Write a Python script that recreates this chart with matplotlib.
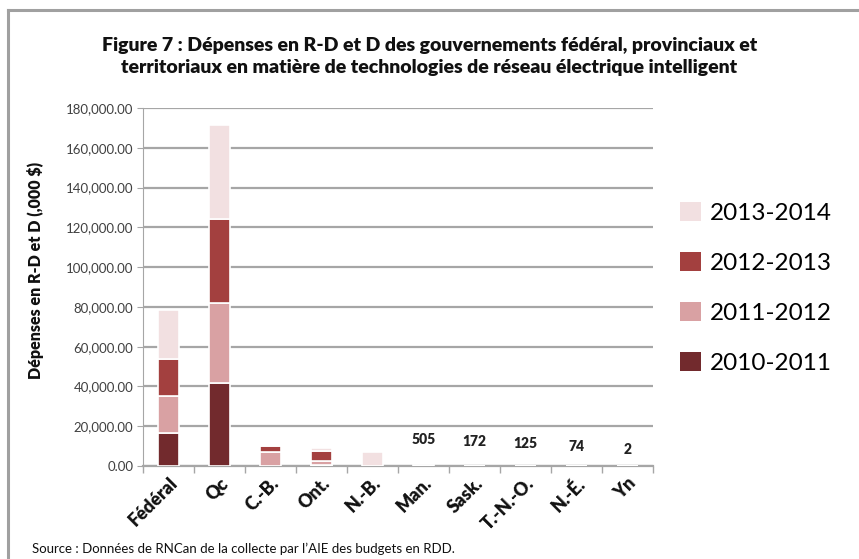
import matplotlib
matplotlib.use("Agg")
import matplotlib.pyplot as plt
from matplotlib.patches import Patch
from matplotlib.lines import Line2D
import numpy as np

categories = ["Fédéral", "Qc", "C.-B.", "Ont.", "N.-B.", "Man.", "Sask.", "T.-N.-O.", "N.-É.", "Yn"]
series_names = ["2010-2011", "2011-2012", "2012-2013", "2013-2014"]
v2010 = [16700, 41600, 0, 500, 0, 0, 0, 0, 0, 0]
v2011 = [18600, 40500, 7200, 2000, 0, 0, 0, 0, 0, 0]
v2012 = [18600, 42100, 2900, 5200, 0, 0, 0, 0, 0, 0]
v2013 = [24500, 47300, 500, 1500, 7000, 505, 172, 125, 74, 2]
label_values = [None, None, None, None, None, 505, 172, 125, 74, 2]
yticks = [0, 20000, 40000, 60000, 80000, 100000, 120000, 140000, 160000, 180000]

colors = ["#722a2d", "#d9a1a3", "#a3403f", "#f2e0e1"]
font = ["Lato", "DejaVu Sans"]
plt.rcParams["font.family"] = font

fig = plt.figure(figsize=(8.59, 5.59), dpi=100)
ax = fig.add_axes([143/859, 93/559, 510/859, 358/559])

x = np.arange(len(categories))
bottom = np.zeros(len(categories))
handles = []
for name, vals, col in zip(series_names, [v2010, v2011, v2012, v2013], colors):
    vals = np.array(vals, dtype=float)
    ax.bar(x, vals, width=0.4, bottom=bottom, color=col, edgecolor="white", linewidth=1.2, zorder=3)
    bottom += vals
    handles.append(Patch(facecolor=col, edgecolor="none", label=name))

offsets = [0, 0, 0, 0, 0, 14, 13, 11, 9.5, 7.5]
for i, lv in enumerate(label_values):
    if lv is not None:
        ax.annotate(str(lv), (x[i], bottom[i]), xytext=(0, offsets[i]), textcoords="offset points",
                    ha="center", va="bottom", fontsize=10, fontweight="heavy", color="#222222")

ax.set_xlim(-0.5, len(categories) - 0.5)
ax.set_ylim(0, 180000)
ax.set_yticks(yticks)
ax.set_yticklabels([f"{v:,.2f}" for v in yticks], fontsize=9.5, color="#404040")
ax.yaxis.grid(True, color="#a6a6a6", linewidth=1.6, zorder=0)
ax.set_axisbelow(True)
for s in ["top", "right"]:
    ax.spines[s].set_visible(False)
ax.spines["left"].set_color("#a6a6a6")
ax.spines["bottom"].set_color("#a6a6a6")
ax.spines["bottom"].set_linewidth(1.6)
ax.tick_params(axis="y", length=4, color="#a6a6a6", pad=3)
ax.set_xticks(x)
ax.set_xticklabels(categories, rotation=45, ha="right", rotation_mode="anchor",
                   fontsize=13, fontweight="heavy", color="#111111")
ax.tick_params(axis="x", length=0, pad=6)
ax.set_xticks(np.arange(len(categories) + 1) - 0.5, minor=True)
ax.tick_params(axis="x", which="minor", length=5, color="#a6a6a6", width=1)

ax.set_ylabel("Dépenses en R-D et D (,000 $)", fontsize=11.5, fontweight="heavy", color="#111111")
ax.yaxis.set_label_coords(-0.195, 0.545)

leg = fig.legend(handles=handles[::-1], loc="center left", bbox_to_anchor=(658/859, 1 - 288/559),
                 frameon=False, fontsize=17.5, handlelength=0.85, handleheight=0.85,
                 labelspacing=1.15, handletextpad=0.4)

fig.text(0.5, 1 - 45/559, "Figure 7 : Dépenses en R-D et D des gouvernements fédéral, provinciaux et",
         ha="center", va="center", fontsize=14, fontweight="heavy", color="#111111")
fig.text(0.5, 1 - 68/559, "territoriaux en matière de technologies de réseau électrique intelligent",
         ha="center", va="center", fontsize=14, fontweight="heavy", color="#111111")
fig.text(32/859, 1 - 549/559, "Source : Données de RNCan de la collecte par l\u2019AIE des budgets en RDD.",
         ha="left", va="center", fontsize=9.5, color="#111111")

fig.add_artist(Line2D([8/859, 1.0], [1 - 9.5/559, 1 - 9.5/559], color="#a0a0a0", linewidth=2.2, transform=fig.transFigure))
fig.add_artist(Line2D([8/859, 8/859], [0, 1 - 9.5/559], color="#a0a0a0", linewidth=2.2, transform=fig.transFigure))

fig.savefig("out.png", dpi=100)
